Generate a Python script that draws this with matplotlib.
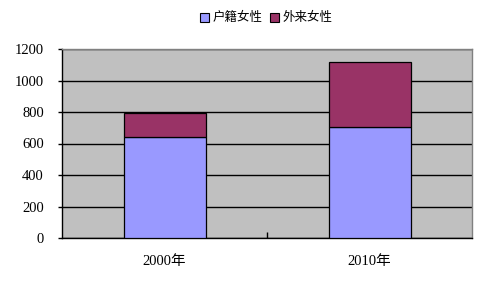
import matplotlib
matplotlib.use("Agg")
import matplotlib.pyplot as plt
from matplotlib.patches import Patch
import numpy as np

categories = ["2000年", "2010年"]
series_names = ["户籍女性", "外来女性"]
huji = [640, 705]
wailai = [155, 415]
yticks = [0, 200, 400, 600, 800, 1000, 1200]

colors = ["#9999FF", "#993366"]

fig = plt.figure(figsize=(4.88, 2.86), dpi=100)
ax = fig.add_axes([62/488, 1-238/286, 410/488, 189/286])
ax.set_facecolor("#C0C0C0")

x = np.arange(len(categories))
ax.bar(x, huji, width=0.4, color=colors[0], edgecolor="black", linewidth=0.9, zorder=3)
ax.bar(x, wailai, width=0.4, bottom=huji, color=colors[1], edgecolor="black", linewidth=0.9, zorder=3)

ax.set_xlim(-0.5, 1.5)
ax.set_ylim(0, 1200)
ax.set_yticks(yticks)
ax.yaxis.grid(True, color="black", linewidth=1, zorder=1)
ax.set_axisbelow(True)

for s in ["top", "right"]:
    ax.spines[s].set_color("#808080")
    ax.spines[s].set_linewidth(1)
for s in ["left", "bottom"]:
    ax.spines[s].set_color("black")
    ax.spines[s].set_linewidth(1)

tickfont = ["Liberation Serif", "Noto Sans CJK SC"]
ax.set_yticklabels([str(v) for v in yticks], family=tickfont, fontsize=10.5)
ax.tick_params(axis="y", direction="out", length=3, width=1, pad=10)

ax.set_xticks([0.5], minor=True)
ax.set_xticks(x)
ax.set_xticklabels(categories, family=tickfont, fontsize=10.5)
ax.tick_params(axis="x", which="major", length=0, pad=12)
ax.tick_params(axis="x", which="minor", direction="in", length=4, width=1)

handles = [Patch(facecolor=c, edgecolor="black", linewidth=0.8) for c in colors]
fig.legend(handles, series_names, loc="center", bbox_to_anchor=(266/488, 1-18/286),
           ncol=2, frameon=False, prop={"family": ["Noto Sans CJK SC", "DejaVu Sans"], "size": 9},
           handlelength=0.7, handleheight=0.7, handletextpad=0.3, columnspacing=0.6)

fig.savefig("out.png", dpi=100)
